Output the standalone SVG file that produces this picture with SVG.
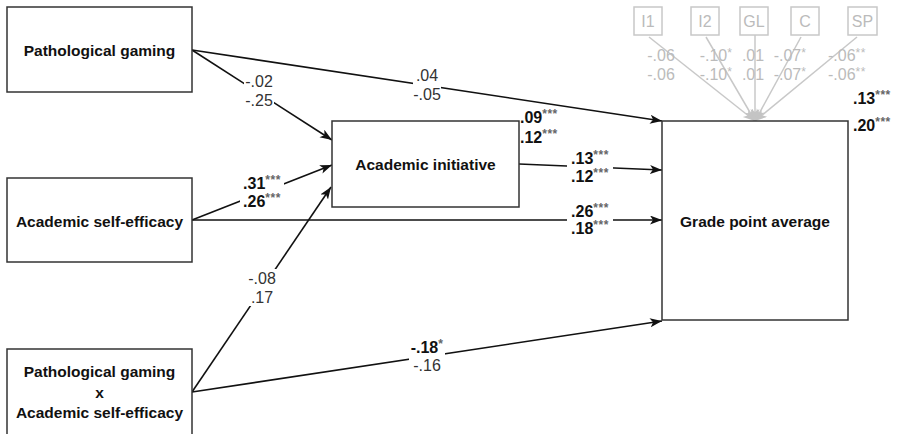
<svg xmlns="http://www.w3.org/2000/svg" width="901" height="434" viewBox="0 0 901 434">
<defs>
<marker id="ah" markerUnits="userSpaceOnUse" markerWidth="14" markerHeight="10" refX="12" refY="4.5" orient="auto">
<path d="M0,0 L12,4.5 L0,9 L3,4.5 z" fill="#111"/>
</marker>
<marker id="ahg" markerUnits="userSpaceOnUse" markerWidth="14" markerHeight="10" refX="12" refY="4.5" orient="auto">
<path d="M0,0 L12,4.5 L0,9 L3,4.5 z" fill="#c4c4c4"/>
</marker>
<style>
.box{fill:#fff;stroke:#333;stroke-width:1.5}
.gbox{fill:#fff;stroke:#c8c8c8;stroke-width:1.5}
.nt{font-family:"Liberation Sans",Arial,sans-serif;font-size:15.5px;font-weight:bold;fill:#111;text-anchor:middle}
.gt{font-family:"Liberation Sans",Arial,sans-serif;font-size:16px;fill:#bbb;text-anchor:middle}
.ln{stroke:#111;stroke-width:1.6;fill:none;marker-end:url(#ah)}
.gl{stroke:#c8c8c8;stroke-width:1.5;fill:none;marker-end:url(#ahg)}
.lb{font-family:"Liberation Sans",Arial,sans-serif;font-size:16px;fill:#333;text-anchor:middle}
.lbb{font-family:"Liberation Sans",Arial,sans-serif;font-size:16px;font-weight:bold;fill:#111;text-anchor:middle}
.lbl{text-anchor:start}
.st{font-size:12px;font-weight:bold;fill:#666;letter-spacing:0.5px}
.gst{font-size:12px;letter-spacing:0.5px}
.bg{fill:#fff}
</style>
</defs>

<g id="connectors">
<line class="ln" x1="192" y1="50" x2="662" y2="121"/>
<line class="ln" x1="192" y1="50" x2="332" y2="140"/>
<line class="ln" x1="192" y1="220" x2="332" y2="165"/>
<line class="ln" x1="192" y1="220" x2="662" y2="220"/>
<line class="ln" x1="192" y1="392" x2="331" y2="187"/>
<line class="ln" x1="192" y1="392" x2="662" y2="321"/>
<line class="ln" x1="519" y1="164" x2="662" y2="170"/>
<line class="gl" x1="649" y1="37" x2="755" y2="121"/>
<line class="gl" x1="706" y1="37" x2="755" y2="121"/>
<line class="gl" x1="755" y1="35" x2="755" y2="121"/>
<line class="gl" x1="801" y1="37" x2="755" y2="121"/>
<line class="gl" x1="857" y1="37" x2="755" y2="121"/>
</g>

<g id="labels">
<rect class="bg" x="413" y="66" width="28" height="37"/>
<text class="lb" x="427" y="81">.04</text>
<text class="lb" x="427" y="100">-.05</text>

<rect class="bg" x="244" y="73" width="30" height="36"/>
<text class="lb" x="259" y="87">-.02</text>
<text class="lb" x="259" y="106">-.25</text>

<rect class="bg" x="240" y="174" width="44" height="36"/>
<text class="lbb" x="262" y="189">.31<tspan class="st" dy="-5">***</tspan></text>
<text class="lbb" x="262" y="207">.26<tspan class="st" dy="-5">***</tspan></text>

<rect class="bg" x="567" y="202" width="46" height="35"/>
<text class="lbb" x="590" y="217">.26<tspan class="st" dy="-5">***</tspan></text>
<text class="lbb" x="590" y="234">.18<tspan class="st" dy="-5">***</tspan></text>

<rect class="bg" x="567" y="149" width="46" height="36"/>
<text class="lbb" x="590" y="164">.13<tspan class="st" dy="-5">***</tspan></text>
<text class="lbb" x="590" y="182">.12<tspan class="st" dy="-5">***</tspan></text>

<rect class="bg" x="247" y="269" width="32" height="37"/>
<text class="lb" x="262" y="284">-.08</text>
<text class="lb" x="262" y="303">.17</text>

<rect class="bg" x="409" y="338" width="36" height="36"/>
<text class="lbb" x="427" y="353">-.18<tspan class="st" dy="-5">*</tspan></text>
<text class="lb" x="427" y="371">-.16</text>

<text class="lbb lbl" x="520" y="123">.09<tspan class="st" dy="-5">***</tspan></text>
<text class="lbb lbl" x="520" y="143">.12<tspan class="st" dy="-5">***</tspan></text>
<text class="lbb lbl" x="853" y="104">.13<tspan class="st" dy="-5">***</tspan></text>
<text class="lbb lbl" x="853" y="131">.20<tspan class="st" dy="-5">***</tspan></text>

<text class="gt" x="661" y="61">-.06</text>
<text class="gt" x="661" y="80">-.06</text>
<text class="gt" x="716" y="61">-.10<tspan class="gst" dy="-4">*</tspan></text>
<text class="gt" x="716" y="80">-.10<tspan class="gst" dy="-4">*</tspan></text>
<text class="gt" x="753" y="61">.01</text>
<text class="gt" x="753" y="80">.01</text>
<text class="gt" x="790" y="61">-.07<tspan class="gst" dy="-4">*</tspan></text>
<text class="gt" x="790" y="80">-.07<tspan class="gst" dy="-4">*</tspan></text>
<text class="gt" x="847" y="61">-.06<tspan class="gst" dy="-4">**</tspan></text>
<text class="gt" x="847" y="80">-.06<tspan class="gst" dy="-4">**</tspan></text>
</g>

<g id="node-pg">
<rect class="box" x="7" y="7" width="185" height="85"/>
<text class="nt" x="99.5" y="56">Pathological gaming</text>
</g>
<g id="node-ase">
<rect class="box" x="7" y="178" width="185" height="84"/>
<text class="nt" x="99.5" y="227">Academic self-efficacy</text>
</g>
<g id="node-int">
<rect class="box" x="7" y="349" width="185" height="100"/>
<text class="nt" x="99.5" y="377">Pathological gaming</text>
<text class="nt" x="99.5" y="398">x</text>
<text class="nt" x="99.5" y="418">Academic self-efficacy</text>
</g>
<g id="node-ai">
<rect class="box" x="332" y="121" width="187" height="86"/>
<text class="nt" x="425.5" y="170">Academic initiative</text>
</g>
<g id="node-gpa">
<rect class="box" x="662" y="121" width="186" height="199"/>
<text class="nt" x="755" y="227">Grade point average</text>
</g>
<g id="node-i1"><rect class="gbox" x="634" y="7" width="28" height="28"/><text class="gt" x="648" y="27">I1</text></g>
<g id="node-i2"><rect class="gbox" x="691" y="7" width="28" height="28"/><text class="gt" x="705" y="27">I2</text></g>
<g id="node-gl"><rect class="gbox" x="740" y="7" width="28" height="28"/><text class="gt" x="754" y="27">GL</text></g>
<g id="node-c"><rect class="gbox" x="791" y="7" width="28" height="28"/><text class="gt" x="805" y="27">C</text></g>
<g id="node-sp"><rect class="gbox" x="848" y="7" width="29" height="28"/><text class="gt" x="862.5" y="27">SP</text></g>
</svg>
